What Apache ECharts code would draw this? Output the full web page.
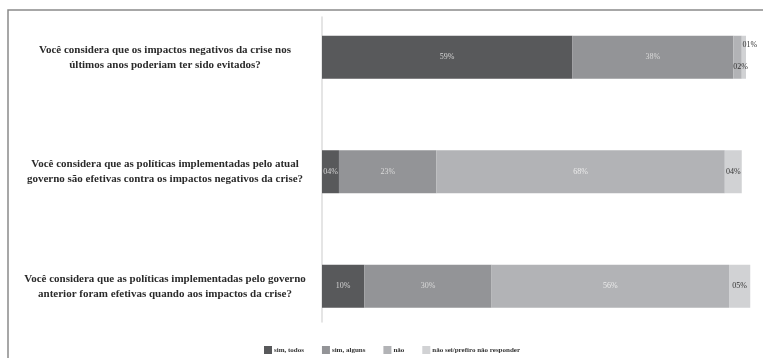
<!DOCTYPE html>
<html>
<head>
<meta charset="utf-8">
<style>
  html, body { margin: 0; padding: 0; background: #ffffff; }
  #chart { width: 763px; height: 358px; }
</style>
<script src="https://cdn.jsdelivr.net/npm/echarts@6/dist/echarts.min.js"></script>
</head>
<body>
<div id="chart"></div>
<script>
// Survey questions (one bar per question, top to bottom)
const questions = [
  'Você considera que os impactos negativos da crise nos\núltimos anos poderiam ter sido evitados?',
  'Você considera que as políticas implementadas pelo atual\ngoverno são efetivas contra os impactos negativos da crise?',
  'Você considera que as políticas implementadas pelo governo\nanterior foram efetivas quando aos impactos da crise?'
];

// Answer categories
const answers = ['sim, todos', 'sim, alguns', 'não', 'não sei/prefiro não responder'];

// Percentages per answer, in question order
const simTodos  = [59, 4, 10];
const simAlguns = [38, 23, 30];
const nao       = [2, 68, 56];
const naoSei    = [1, 4, 5];

const values = [simTodos, simAlguns, nao, naoSei];
const colors = ['#58595b', '#939497', '#b2b3b6', '#d1d2d4'];
const labelColors = ['#d6d6d6', '#dadada', '#ececec', '#333333'];

const serif = '"Liberation Serif", "DejaVu Serif", serif';
const pct = v => String(v).padStart(2, '0') + '%';

// Thin segments on the first bar get their labels nudged outside the bar
const labelNudge = {
  2: { 0: { offset: [3, 10], color: '#333333' } },
  3: { 0: { offset: [6, -12], color: '#333333' } }
};

const series = answers.map((name, s) => ({
  name: name,
  type: 'bar',
  stack: 'total',
  barWidth: 43,
  clip: false,
  xAxisIndex: 0,
  yAxisIndex: 0,
  itemStyle: { color: colors[s] },
  label: {
    show: true,
    position: 'inside',
    fontFamily: serif,
    fontSize: 8,
    color: labelColors[s],
    formatter: p => pct(p.value)
  },
  data: values[s].map((v, i) => {
    const nudge = labelNudge[s] && labelNudge[s][i];
    return nudge ? { value: v, label: nudge } : v;
  })
}));

const chart = echarts.init(document.getElementById('chart'), null, { renderer: 'canvas' });
chart.setOption({
  animation: false,
  backgroundColor: '#ffffff',
  graphic: [{
    type: 'rect',
    shape: { x: 8, y: 10, width: 780, height: 380 },
    style: { fill: null, stroke: '#8a8a8a', lineWidth: 1.5 },
    silent: true,
    z: -1
  }],
  legend: {
    data: answers,
    left: 259,
    top: 341,
    icon: 'rect',
    itemWidth: 8,
    itemHeight: 8,
    itemGap: 18,
    textStyle: { fontFamily: serif, fontSize: 7, fontWeight: 'bold', color: '#333333', padding: [0, 0, 0, -3] }
  },
  grid: [
    { left: 322, right: 17, top: -4.5, bottom: 14.5, containLabel: false },
    { left: 322, width: 10, top: 17, bottom: 36, containLabel: false }
  ],
  xAxis: [
    { type: 'value', gridIndex: 0, min: 0, max: 100, show: false },
    { type: 'value', gridIndex: 1, show: false }
  ],
  yAxis: [
    {
      type: 'category',
      gridIndex: 0,
      inverse: true,
      data: questions,
      axisLine: { show: false },
      axisTick: { show: false },
      splitLine: { show: false },
      axisLabel: {
        align: 'center',
        margin: 157,
        fontFamily: serif,
        fontWeight: 'bold',
        fontSize: 11,
        lineHeight: 15,
        color: '#2b2b2b'
      }
    },
    {
      type: 'category',
      gridIndex: 1,
      data: ['a'],
      axisLine: { show: true, lineStyle: { color: '#dcdcdc', width: 1.5 } },
      axisTick: { show: false },
      axisLabel: { show: false },
      splitLine: { show: false }
    }
  ],
  series: series
});
</script>
</body>
</html>
